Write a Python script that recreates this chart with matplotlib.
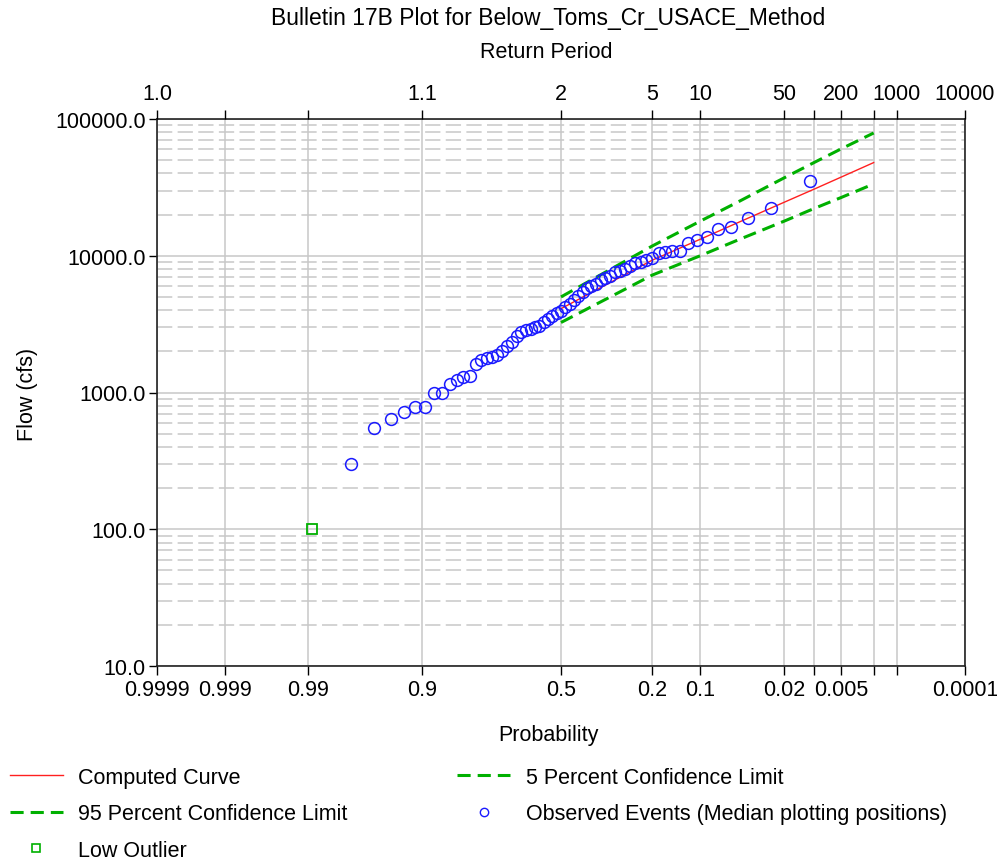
import numpy as np
import matplotlib
matplotlib.use("Agg")
import matplotlib.pyplot as plt
from matplotlib.lines import Line2D
from matplotlib.ticker import LogLocator, NullFormatter, FixedLocator, NullLocator
from statistics import NormalDist

plt.rcParams['font.family'] = ['Liberation Sans', 'DejaVu Sans']
FS = 15.5

title = "Bulletin 17B Plot for Below_Toms_Cr_USACE_Method"

# frequency curve ordinates (exceedance probability)
curve_prob = [0.5, 0.2, 0.1, 0.05, 0.02, 0.01, 0.005, 0.002]
computed_flow = [4100, 9300, 13200, 17700, 24600, 30600, 37500, 48000]
conf5_flow = [5000, 11800, 17900, 25100, 37100, 47900, 60300, 79000]
conf95_flow = [3250, 7230, 10000, 13200, 17900, 22100, 26600, 33500]

# observed annual peaks, largest first
observed_flow = [35000, 22500, 19000, 16100, 15600, 13700, 13000, 12400, 10800, 10800,
                 10700, 10400, 9700, 9300, 9050, 8850, 8350, 8050, 7800, 7550,
                 7100, 6850, 6650, 6250, 6050, 5850, 5450, 5100, 4750, 4450,
                 4200, 3950, 3820, 3650, 3450, 3250, 3080, 3000, 2920, 2850,
                 2750, 2600, 2350, 2180, 2000, 1880, 1830, 1790, 1740, 1620,
                 1320, 1290, 1230, 1150, 1000, 1000, 780, 780, 720, 640,
                 550, 300]
low_outlier_flow = [100]

# axis ticks
prob_ticks = [0.9999, 0.999, 0.99, 0.9, 0.5, 0.2, 0.1, 0.02, 0.01, 0.005, 0.002, 0.001, 0.0001]
prob_labels = ["0.9999", "0.999", "0.99", "0.9", "0.5", "0.2", "0.1", "0.02", "", "0.005", "", "", "0.0001"]
rp_labels = ["1.0", "", "", "1.1", "2", "5", "10", "50", "", "200", "", "1000", "10000"]
flow_ticks = [10, 100, 1000, 10000, 100000]
flow_labels = ["10.0", "100.0", "1000.0", "10000.0", "100000.0"]

# median plotting positions
n = len(observed_flow) + len(low_outlier_flow)
rank = np.arange(1, n + 1)
pp = (rank - 0.3) / (n + 0.4)
obs_pp = pp[:len(observed_flow)]
low_pp = pp[len(observed_flow):]

_nd = NormalDist()
_ppf = np.vectorize(_nd.inv_cdf, otypes=[float])
_cdf = np.vectorize(_nd.cdf, otypes=[float])


def fwd(p):
    p = np.clip(np.asarray(p, dtype=float), 1e-12, 1 - 1e-12)
    return _ppf(p)


def inv(z):
    return _cdf(np.asarray(z, dtype=float))


fig = plt.figure(figsize=(9.97, 8.62), dpi=100)
W, H = 997, 862
ax = fig.add_axes([157 / W, 1 - 667 / H, (965 - 157) / W, (667 - 120) / H])

ax.set_xscale('function', functions=(fwd, inv))
ax.set_yscale('log')
ax.set_xlim(0.9999, 0.0001)
ax.set_ylim(10, 100000)

grid_c = '#c8c8c8'
red = '#ff2020'
green = '#00b000'
blue = '#1a1aff'
ax.set_axisbelow(True)

ax.plot(curve_prob, computed_flow, color=red, lw=1.0, zorder=3)
ax.plot(curve_prob, conf5_flow, color=green, lw=2.2, ls=(0, (4.3, 2.3)), zorder=3)
ax.plot(curve_prob, conf95_flow, color=green, lw=2.2, ls=(0, (4.3, 2.3)), zorder=3)
ax.plot(obs_pp, observed_flow, ls='none', marker='o', ms=8.5, mfc='none',
        mec=blue, mew=1.1, zorder=4)
ax.plot(low_pp, low_outlier_flow, ls='none', marker='s', ms=7.5, mfc='none',
        mec=green, mew=1.3, zorder=4)

ax.xaxis.set_major_locator(FixedLocator(prob_ticks))
ax.set_xticklabels(prob_labels)
ax.xaxis.set_minor_locator(NullLocator())
ax.yaxis.set_major_locator(FixedLocator(flow_ticks))
ax.set_yticklabels(flow_labels)
ax.yaxis.set_minor_locator(LogLocator(base=10, subs=np.arange(2, 10)))
ax.yaxis.set_minor_formatter(NullFormatter())

ax.tick_params(axis='both', which='major', direction='out', length=6.5, width=1,
               labelsize=FS, colors='black')
ax.tick_params(axis='x', which='major', pad=3)
ax.tick_params(axis='y', which='major', pad=2, length=6)
ax.tick_params(axis='y', which='minor', length=0)

ax.grid(axis='x', which='major', color=grid_c, lw=1.1, ls='-')
ax.grid(axis='y', which='major', color=grid_c, lw=1.1, ls='-')
ax.grid(axis='y', which='minor', color=grid_c, lw=1.1, ls=(0, (10, 3.5)))

for s in ax.spines.values():
    s.set_linewidth(1.2)
    s.set_color('#222222')

# return period axis on top
ax2 = ax.twiny()
ax2.set_xscale('function', functions=(fwd, inv))
ax2.set_xlim(ax.get_xlim())
ax2.xaxis.set_major_locator(FixedLocator(prob_ticks))
ax2.set_xticklabels(rp_labels)
ax2.xaxis.set_minor_locator(NullLocator())
ax2.tick_params(axis='x', which='major', direction='out', length=6.5, width=1,
                labelsize=FS, pad=4)
for s in ax2.spines.values():
    s.set_visible(False)

fig.text(548 / W, 1 - 18 / H, title, ha='center', va='center', fontsize=16.5)
fig.text(546 / W, 1 - 53 / H, "Return Period", ha='center', va='center', fontsize=FS)
fig.text(548 / W, 1 - 736 / H, "Probability", ha='center', va='center', fontsize=FS)
fig.text(27 / W, 1 - 394 / H, "Flow (cfs)", ha='center', va='center', rotation=90, fontsize=FS)

# legend (row order: computed, 5%, 95%, observed, low outlier)
h_comp = Line2D([], [], color=red, lw=1.0)
h_c5 = Line2D([], [], color=green, lw=2.2, ls=(0, (4.3, 2.3)))
h_c95 = Line2D([], [], color=green, lw=2.2, ls=(0, (4.3, 2.3)))
h_obs = Line2D([], [], ls='none', marker='o', ms=6, mfc='none', mec=blue, mew=1.0)
h_low = Line2D([], [], ls='none', marker='s', ms=6, mfc='none', mec=green, mew=1.2)
handles = [h_comp, h_c95, h_low, h_c5, h_obs]
labels = ["Computed Curve", "95 Percent Confidence Limit", "Low Outlier",
          "5 Percent Confidence Limit", "Observed Events (Median plotting positions)"]
fig.legend(handles, labels, ncol=2, loc='upper left', bbox_to_anchor=(10 / W, 1 - 768 / H),
           frameon=False, fontsize=FS, handlelength=2.45, handletextpad=0.72,
           columnspacing=5.1, labelspacing=0.72, borderpad=0, borderaxespad=0, numpoints=1)

fig.savefig("out.png", dpi=100)
